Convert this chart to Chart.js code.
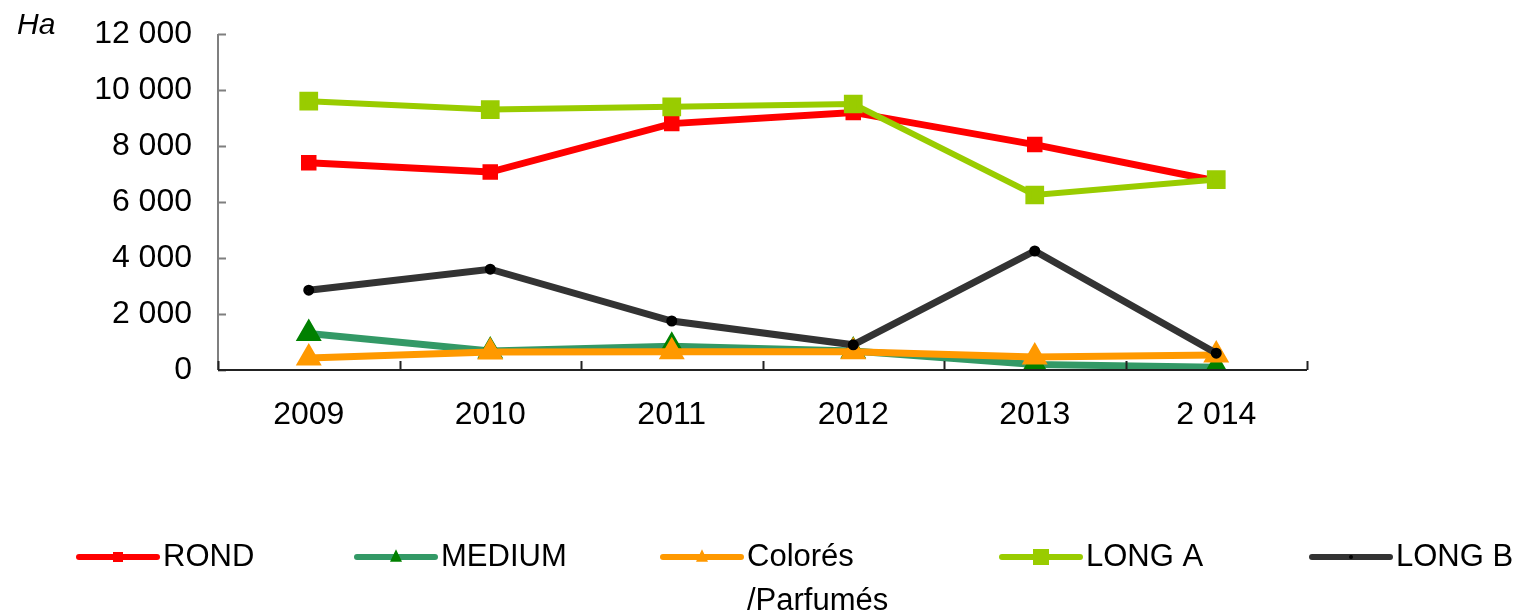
<!DOCTYPE html>
<html>
<head>
<meta charset="utf-8">
<script src="https://cdn.jsdelivr.net/npm/chart.js@4.4.0/dist/chart.umd.min.js"></script>
<style>
  html, body { margin: 0; padding: 0; background: #fff; }
  #wrap { width: 1526px; height: 616px; position: relative; }
</style>
</head>
<body>
<div id="wrap"><canvas id="riceChart"></canvas></div>
<script>
// Data (Ha)
const years = ['2009', '2010', '2011', '2012', '2013', '2 014'];
const rond = [7400, 7070, 8800, 9200, 8050, 6750];
const medium = [1300, 680, 850, 680, 200, 100];
const colores = [430, 640, 650, 650, 460, 540];
const longA = [9600, 9300, 9400, 9500, 6250, 6800];
const longB = [2850, 3600, 1750, 900, 4250, 600];
const yTicks = [0, 2000, 4000, 6000, 8000, 10000, 12000];

const FONT = "'Liberation Sans', Arial, sans-serif";

function fmt(v) {
    return String(v).replace(/\B(?=(\d{3})+(?!\d))/g, ' ');
}

// legend entries: label lines, colours, marker
const legendItems = [
    { text: ['ROND'], line: '#ff0000', marker: 'rect', mColor: '#ff0000', size: 5, x: 79 },
    { text: ['MEDIUM'], line: '#339966', marker: 'triangle', mColor: '#008000', size: 6, x: 357 },
    { text: ['Colorés', '/Parfumés'], line: '#ff9900', marker: 'triangle', mColor: '#ff9900', size: 6, x: 663 },
    { text: ['LONG A'], line: '#99cc00', marker: 'rect', mColor: '#99cc00', size: 8, x: 1002 },
    { text: ['LONG B'], line: '#333333', marker: 'circle', mColor: '#000000', size: 2, x: 1312 }
];

function drawMarker(ctx, type, x, y, r, color) {
    ctx.fillStyle = color;
    ctx.beginPath();
    if (type === 'rect') {
        ctx.rect(x - r, y - r, r * 2, r * 2);
    } else if (type === 'triangle') {
        ctx.moveTo(x, y - r * 1.3);
        ctx.lineTo(x + r, y + r * 0.8);
        ctx.lineTo(x - r, y + r * 0.8);
        ctx.closePath();
    } else {
        ctx.arc(x, y, r, 0, Math.PI * 2);
    }
    ctx.fill();
}

// Axis decorations, unit label and legend
const extrasPlugin = {
    id: 'extras',
    afterDraw(chart) {
        const ctx = chart.ctx;
        const area = chart.chartArea;
        const xs = chart.scales.x;
        const ys = chart.scales.y;
        ctx.save();

        // y axis + inward ticks
        ctx.strokeStyle = '#7f7f7f';
        ctx.lineWidth = 2;
        ctx.beginPath();
        ctx.moveTo(area.left, area.top);
        ctx.lineTo(area.left, area.bottom);
        yTicks.forEach(v => {
            const py = Math.round(ys.getPixelForValue(v)) + 0.5;
            ctx.moveTo(area.left, py);
            ctx.lineTo(area.left + 8, py);
        });
        ctx.stroke();

        // x axis + inward ticks at category boundaries
        ctx.strokeStyle = '#222';
        ctx.lineWidth = 2;
        ctx.beginPath();
        ctx.moveTo(area.left, area.bottom);
        ctx.lineTo(area.right, area.bottom);
        const step = xs.getPixelForValue(1) - xs.getPixelForValue(0);
        for (let i = 0; i <= years.length; i++) {
            const px = Math.round(xs.getPixelForValue(i) - step / 2) + 0.5;
            ctx.moveTo(px, area.bottom);
            ctx.lineTo(px, area.bottom - 9);
        }
        ctx.stroke();

        // unit label
        ctx.fillStyle = '#000';
        ctx.font = 'italic 30px ' + FONT;
        ctx.textBaseline = 'middle';
        ctx.textAlign = 'left';
        ctx.fillText('Ha', 17, 26);

        // legend
        const ly = 557;
        ctx.font = '31px ' + FONT;
        legendItems.forEach(item => {
            ctx.strokeStyle = item.line;
            ctx.lineWidth = 6;
            ctx.lineCap = 'round';
            ctx.beginPath();
            ctx.moveTo(item.x, ly);
            ctx.lineTo(item.x + 78, ly);
            ctx.stroke();
            drawMarker(ctx, item.marker, item.x + 39, ly, item.size, item.mColor);
            ctx.fillStyle = '#000';
            item.text.forEach((t, i) => {
                ctx.fillText(t, item.x + 84, ly + i * 44);
            });
        });
        ctx.restore();
    }
};

const ctx = document.getElementById('riceChart').getContext('2d');
new Chart(ctx, {
    type: 'line',
    data: {
        labels: years,
        datasets: [
            { label: 'ROND', data: rond, borderColor: '#ff0000',
              pointBackgroundColor: '#ff0000', pointBorderColor: '#ff0000',
              borderWidth: 7, pointStyle: 'rect', pointRadius: 6, order: 5 },
            { label: 'MEDIUM', data: medium, borderColor: '#339966',
              pointBackgroundColor: '#008000', pointBorderColor: '#008000',
              borderWidth: 7, pointStyle: 'triangle', pointRadius: 8, order: 4 },
            { label: 'Colorés /Parfumés', data: colores, borderColor: '#ff9900',
              pointBackgroundColor: '#ff9900', pointBorderColor: '#ff9900',
              borderWidth: 7, pointStyle: 'triangle', pointRadius: 8, order: 3 },
            { label: 'LONG A', data: longA, borderColor: '#99cc00',
              pointBackgroundColor: '#99cc00', pointBorderColor: '#99cc00',
              borderWidth: 6, pointStyle: 'rect', pointRadius: 9, order: 2 },
            { label: 'LONG B', data: longB, borderColor: '#333333',
              pointBackgroundColor: '#000000', pointBorderColor: '#000000',
              borderWidth: 7, pointStyle: 'circle', pointRadius: 2, order: 1 }
        ]
    },
    options: {
        responsive: true,
        maintainAspectRatio: false,
        animation: false,
        layout: { padding: { left: 0, top: 34, right: 219, bottom: 0 } },
        elements: {
            line: { tension: 0 },
            point: { borderWidth: 1, hoverRadius: 8 }
        },
        plugins: {
            legend: { display: false },
            tooltip: { enabled: false }
        },
        scales: {
            x: {
                offset: true,
                grid: { display: false, drawTicks: false },
                border: { display: false },
                ticks: { color: '#000', padding: 26, font: { family: FONT, size: 32 }, maxRotation: 0 },
                afterFit: function(scale) {
                    scale.height = 246;
                    scale.paddingLeft = 0;
                    scale.paddingRight = 0;
                }
            },
            y: {
                min: 0,
                max: 12000,
                afterBuildTicks: function(scale) { scale.ticks = yTicks.map(v => ({ value: v })); },
                grid: { display: false, drawTicks: false },
                border: { display: false },
                ticks: {
                    color: '#000', padding: 26, font: { family: FONT, size: 32 },
                    callback: function(v) { return fmt(v); }
                },
                afterFit: function(scale) {
                    scale.width = 218;
                    scale.paddingTop = 0;
                    scale.paddingBottom = 0;
                }
            }
        }
    },
    plugins: [extrasPlugin]
});
</script>
</body>
</html>
